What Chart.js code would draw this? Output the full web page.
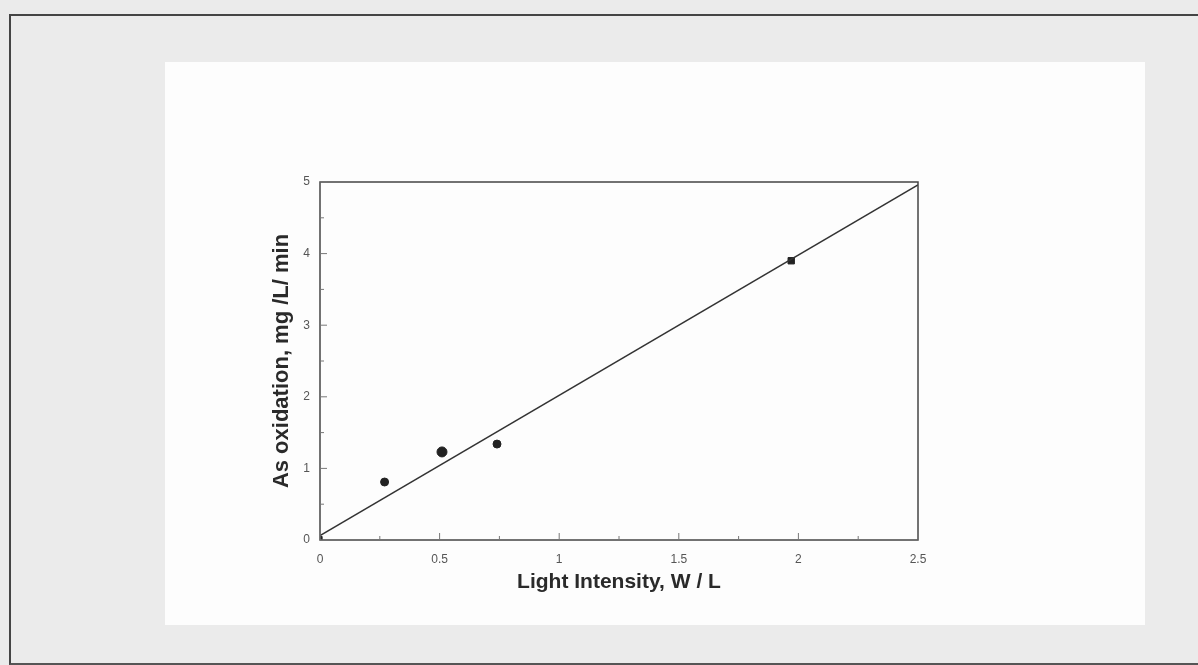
<!DOCTYPE html>
<html>
<head>
<meta charset="utf-8">
<script src="https://cdn.jsdelivr.net/npm/chart.js@4"></script>
<style>
  html, body { margin: 0; padding: 0; }
  body { width: 1198px; height: 665px; background: #ebebeb; position: relative; overflow: hidden; }
  #frame { position: absolute; left: 9px; top: 14px; width: 1200px; height: 647px; border-left: 2px solid #444; border-top: 2px solid #444; border-bottom: 2px solid #555; }
  #panel { position: absolute; left: 165px; top: 62px; width: 980px; height: 563px; background: #fdfdfd; }
</style>
</head>
<body>
<div id="frame"></div>
<div id="panel"><canvas id="chart" width="980" height="563"></canvas></div>
<script>
const lightIntensity = [0, 0.27, 0.51, 0.74, 1.97];
const oxidationRate = [0.02, 0.81, 1.23, 1.34, 3.9];
const pointSizes = [3, 4, 5, 4, 4.5];
const pointShapes = ["rect", "circle", "circle", "circle", "rect"];

// linear fit drawn across the x range
const fitX = [0, 2.5];
const fitY = [0.06, 4.96];

const xTickLabels = ["0", "0.5", "1", "1.5", "2", "2.5"];
const yTickLabels = ["0", "1", "2", "3", "4", "5"];

const ink = "#333";

// box around the plot plus inward ticks (major + minor)
const frameAndTicks = {
  id: "frameAndTicks",
  afterDraw(chart) {
    const { ctx, chartArea: a, scales } = chart;
    ctx.save();
    ctx.strokeStyle = "#444";
    ctx.lineWidth = 1.5;
    ctx.strokeRect(a.left, a.top, a.right - a.left, a.bottom - a.top);
    ctx.lineWidth = 1;
    ctx.strokeStyle = "#777";
    for (let v = 0; v <= 2.5001; v += 0.25) {
      const px = scales.x.getPixelForValue(v);
      const len = Math.abs(v / 0.5 - Math.round(v / 0.5)) < 0.01 ? 7 : 4;
      ctx.beginPath();
      ctx.moveTo(px, a.bottom);
      ctx.lineTo(px, a.bottom - len);
      ctx.stroke();
    }
    for (let v = 0; v <= 5.001; v += 0.5) {
      const py = scales.y.getPixelForValue(v);
      const len = Math.abs(v - Math.round(v)) < 0.01 ? 7 : 4;
      ctx.beginPath();
      ctx.moveTo(a.left, py);
      ctx.lineTo(a.left + len, py);
      ctx.stroke();
    }
    ctx.restore();
  },
};

new Chart(document.getElementById("chart").getContext("2d"), {
  type: "scatter",
  data: {
    datasets: [
      {
        label: "fit",
        data: fitX.map((x, i) => ({ x: x, y: fitY[i] })),
        showLine: true,
        borderColor: ink,
        borderWidth: 1.5,
        pointRadius: 0,
      },
      {
        label: "As oxidation",
        data: lightIntensity.map((x, i) => ({ x: x, y: oxidationRate[i] })),
        backgroundColor: "#222",
        borderColor: "#222",
        pointRadius: pointSizes,
        pointStyle: pointShapes,
      },
    ],
  },
  options: {
    responsive: false,
    animation: false,
    layout: {
      padding: { left: 104, top: 120, right: 227, bottom: 26 },
    },
    plugins: {
      legend: { display: false },
      tooltip: { enabled: false },
    },
    scales: {
      x: {
        type: "linear",
        min: 0,
        max: 2.5,
        border: { display: false },
        grid: { display: false },
        afterFit: (s) => { s.height = 59; },
        ticks: {
          stepSize: 0.5,
          padding: 4,
          color: "#555",
          font: { family: "Arial, 'Liberation Sans'", size: 12 },
          maxRotation: 0,
          callback: (value, index) => xTickLabels[index],
        },
        title: {
          display: true,
          text: "Light Intensity, W / L",
          color: "#2a2a2a",
          font: { family: "Arial, 'Liberation Sans'", size: 21, weight: "bold" },
          padding: { top: 4, bottom: 4 },
        },
      },
      y: {
        type: "linear",
        min: 0,
        max: 5,
        border: { display: false },
        grid: { display: false },
        afterFit: (s) => { s.width = 51; },
        ticks: {
          stepSize: 1,
          padding: 2,
          color: "#555",
          font: { family: "Arial, 'Liberation Sans'", size: 12 },
          callback: (value, index) => yTickLabels[index],
        },
        title: {
          display: true,
          text: "As oxidation, mg /L/ min",
          color: "#2a2a2a",
          font: { family: "Arial, 'Liberation Sans'", size: 22, weight: "bold" },
          padding: { top: 0, bottom: 0 },
        },
      },
    },
  },
  plugins: [frameAndTicks],
});
</script>
</body>
</html>
